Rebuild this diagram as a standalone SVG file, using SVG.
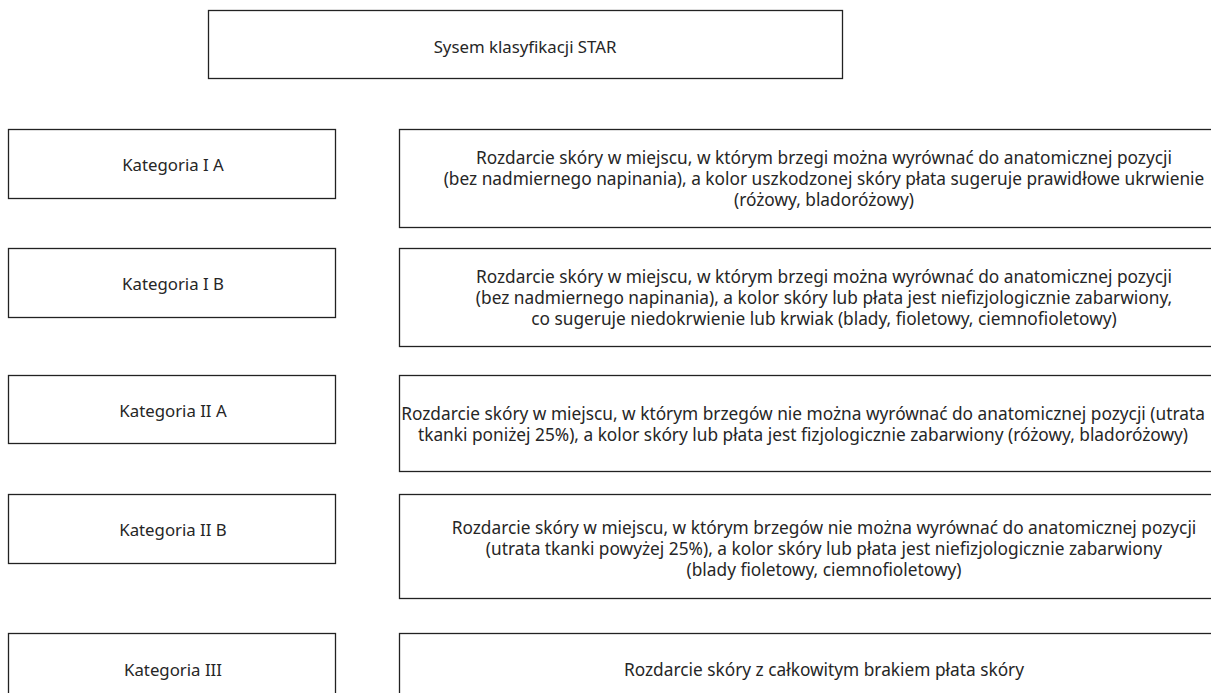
<svg xmlns="http://www.w3.org/2000/svg" width="1211" height="693" viewBox="0 0 1211 693">
<style>
rect{fill:#fff;stroke:#222;stroke-width:1.3}
text{font-family:"Noto Sans","Open Sans",sans-serif;font-size:16.8px;fill:#262626;text-anchor:middle;dominant-baseline:central}
.d{font-size:17.3px}
</style>
<rect x="0" y="0" width="1211" height="693" style="stroke:none"/>
<g id="title"><rect x="208.5" y="10.5" width="634" height="68"/><text x="525" y="46">Sysem klasyfikacji STAR</text></g>
<g id="k1a"><rect x="8.5" y="129.5" width="327" height="69"/><text x="173" y="164">Kategoria I A</text></g>
<g id="d1a"><rect x="399.5" y="129.5" width="860" height="98"/>
<text class="d" x="824" y="157">Rozdarcie skóry w miejscu, w którym brzegi można wyrównać do anatomicznej pozycji</text>
<text class="d" x="824" y="178">(bez nadmiernego napinania), a kolor uszkodzonej skóry płata sugeruje prawidłowe ukrwienie</text>
<text class="d" x="824" y="199">(różowy, bladoróżowy)</text></g>
<g id="k1b"><rect x="8.5" y="248.5" width="327" height="69"/><text x="173" y="283">Kategoria I B</text></g>
<g id="d1b"><rect x="399.5" y="248.5" width="860" height="98"/>
<text class="d" x="824" y="276">Rozdarcie skóry w miejscu, w którym brzegi można wyrównać do anatomicznej pozycji</text>
<text class="d" x="824" y="297">(bez nadmiernego napinania), a kolor skóry lub płata jest niefizjologicznie zabarwiony,</text>
<text class="d" x="824" y="318">co sugeruje niedokrwienie lub krwiak (blady, fioletowy, ciemnofioletowy)</text></g>
<g id="k2a"><rect x="8.5" y="375.5" width="327" height="68"/><text x="173" y="410">Kategoria II A</text></g>
<g id="d2a"><rect x="399.5" y="375.5" width="860" height="96"/>
<text class="d" x="803" y="413">Rozdarcie skóry w miejscu, w którym brzegów nie można wyrównać do anatomicznej pozycji (utrata</text>
<text class="d" x="803" y="434">tkanki poniżej 25%), a kolor skóry lub płata jest fizjologicznie zabarwiony (różowy, bladoróżowy)</text></g>
<g id="k2b"><rect x="8.5" y="494.5" width="327" height="69"/><text x="173" y="529">Kategoria II B</text></g>
<g id="d2b"><rect x="399.5" y="494.5" width="860" height="104"/>
<text class="d" x="824" y="527">Rozdarcie skóry w miejscu, w którym brzegów nie można wyrównać do anatomicznej pozycji</text>
<text class="d" x="824" y="548">(utrata tkanki powyżej 25%), a kolor skóry lub płata jest niefizjologicznie zabarwiony</text>
<text class="d" x="824" y="569">(blady fioletowy, ciemnofioletowy)</text></g>
<g id="k3"><rect x="8.5" y="633.5" width="327" height="70"/><text x="173" y="669">Kategoria III</text></g>
<g id="d3"><rect x="399.5" y="633.5" width="860" height="80"/><text class="d" x="824" y="669">Rozdarcie skóry z całkowitym brakiem płata skóry</text></g>
<g id="connectors"/>
</svg>
